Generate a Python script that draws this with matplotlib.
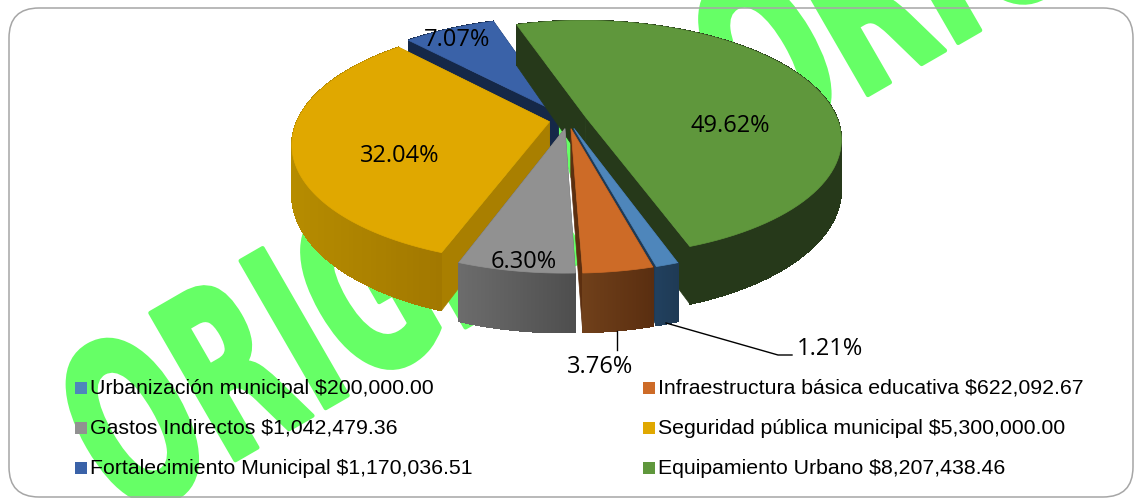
# exploded 3D pie with a green watermark behind it
import numpy as np
import matplotlib
matplotlib.use("Agg")
import matplotlib.pyplot as plt
import matplotlib.patheffects as pe
from matplotlib.patches import FancyBboxPatch, Polygon, Rectangle
from matplotlib.transforms import Affine2D

# data, clockwise from the first slice
names = ["Urbanización municipal", "Infraestructura básica educativa",
         "Gastos Indirectos", "Seguridad pública municipal",
         "Fortalecimiento Municipal", "Equipamiento Urbano"]
amounts = [200000.00, 622092.67, 1042479.36, 5300000.00, 1170036.51, 8207438.46]

# colours: top face, cut face, outer face left and right ends
top_colors = ["#4e86bb", "#cd6b27", "#919191", "#e0a800", "#3a62a8", "#5f973c"]
cut_colors = ["#1f3a55", "#5c2f10", "#555555", "#a97f00", "#152848", "#26391a"]
side_left = ["#21405e", "#70401a", "#6c6c6c", "#b68c00", "#152848", "#26391a"]
side_right = ["#1f3a55", "#5a2e10", "#4e4e4e", "#a27800", "#152848", "#26391a"]

# slices are painted back to front
draw_order = [4, 5, 3, 0, 1, 2]

# label centres in pixels, same order as the data
label_pos = [(830, 349), (600, 367), (524, 262), (400, 156), (457, 40), (730, 126)]

# pie geometry in pixels
center_x, center_y = 568, 120
radius_x, radius_y = 252, 115
persp = 0.18
warp = 0.015
depth = 48
explode = 0.075
first_angle = -70


def project(u, v, z=0.0):
    # perspective projection of a point on the pie disk
    w = 1 + persp * v
    return center_x + radius_x * u / w, center_y + (-radius_y * v + z) / w


class Squeeze(pe.AbstractPathEffect):
    # squeeze the glyphs along the baseline, the watermark font is condensed
    def __init__(self, factor, stroke):
        super().__init__()
        self.factor = factor
        self.stroke = stroke

    def draw_path(self, renderer, gc, tpath, affine, rgbFace=None):
        gc.set_foreground(rgbFace)
        gc.set_linewidth(self.stroke)
        renderer.draw_path(gc, tpath, Affine2D().scale(self.factor, 1) + affine, rgbFace)


def mix(c1, c2, t):
    a = np.array(matplotlib.colors.to_rgb(c1))
    b = np.array(matplotlib.colors.to_rgb(c2))
    return tuple(a + (b - a) * t)


def draw_face(ax, points, color, smooth=True):
    ax.add_patch(Polygon(points, closed=True, facecolor=color, edgecolor=color,
                         linewidth=0.5, antialiased=smooth, zorder=3))


def draw_slice(ax, i, start, end):
    mid = np.radians((start + end) / 2)
    ox, oy = explode * np.cos(mid), explode * np.sin(mid)
    t = np.radians(np.linspace(start, end, 90))
    # small warp of the angle, front and back arcs look narrower in the reference
    t = t + warp * np.sin(2 * t)
    u = ox + np.cos(t)
    v = oy + np.sin(t)

    apex_top = project(ox, oy)
    apex_low = project(ox, oy, depth)
    top = [project(a, b) for a, b in zip(u, v)]
    low = [project(a, b, depth) for a, b in zip(u, v)]

    # the two cut faces
    draw_face(ax, [apex_top, top[0], low[0], apex_low], cut_colors[i])
    draw_face(ax, [apex_top, top[-1], low[-1], apex_low], cut_colors[i])

    # outer face: one solid band, then vertical strips shaded from left to right
    draw_face(ax, top + low[::-1], mix(side_left[i], side_right[i], 0.5))
    xs = [p[0] for p in top]
    for k in range(len(top) - 1):
        f = (xs[k] - min(xs)) / (max(xs) - min(xs))
        draw_face(ax, [top[k], top[k + 1], low[k + 1], low[k]],
                  mix(side_left[i], side_right[i], f), smooth=False)

    draw_face(ax, [apex_top] + top, top_colors[i])


fig = plt.figure(figsize=(11.34, 4.98), dpi=100)
ax = fig.add_axes([0, 0, 1, 1])
ax.set_xlim(0, 1134)
ax.set_ylim(498, 0)
ax.axis("off")

# watermark
ax.text(125, 524, "ORIGINALORIGINAL", color="#66ff66", fontsize=168, fontweight="bold",
        family="DejaVu Sans", rotation=30, rotation_mode="anchor", ha="left", va="baseline",
        path_effects=[Squeeze(0.58, 3)], zorder=1, clip_on=True)

# rounded frame
ax.add_patch(FancyBboxPatch((39, 38), 1064, 429, boxstyle="round,pad=30,rounding_size=30",
                            facecolor="none", edgecolor="#a6a6a6", linewidth=1.1, zorder=2))

# slices
total = sum(amounts)
spans = [a / total * 360 for a in amounts]
ends = first_angle - np.cumsum(spans)
starts = ends + np.array(spans)
for i in draw_order:
    draw_slice(ax, i, starts[i], ends[i])

# leader lines
ax.plot([617, 617], [331, 350], color="black", linewidth=1, zorder=4)
ax.plot([666, 778, 792], [323, 355, 355], color="black", linewidth=1, zorder=4)

# percentage labels
for i in range(len(amounts)):
    ax.text(label_pos[i][0], label_pos[i][1], f"{amounts[i] / total * 100:.2f}%",
            family="Open Sans", fontsize=17, color="black", ha="center", va="center", zorder=5)

# legend, filled row by row
for i in range(len(names)):
    x = 75 if i % 2 == 0 else 643
    y = 388 + 40 * (i // 2)
    ax.add_patch(Rectangle((x, y - 6), 11.5, 12, facecolor=top_colors[i], edgecolor="none", zorder=5))
    ax.text(x + 15, y, f"{names[i]} ${amounts[i]:,.2f}", family="Liberation Sans",
            fontsize=15.35, color="black", ha="left", va="center", zorder=5)

fig.savefig("out.png", dpi=100)
